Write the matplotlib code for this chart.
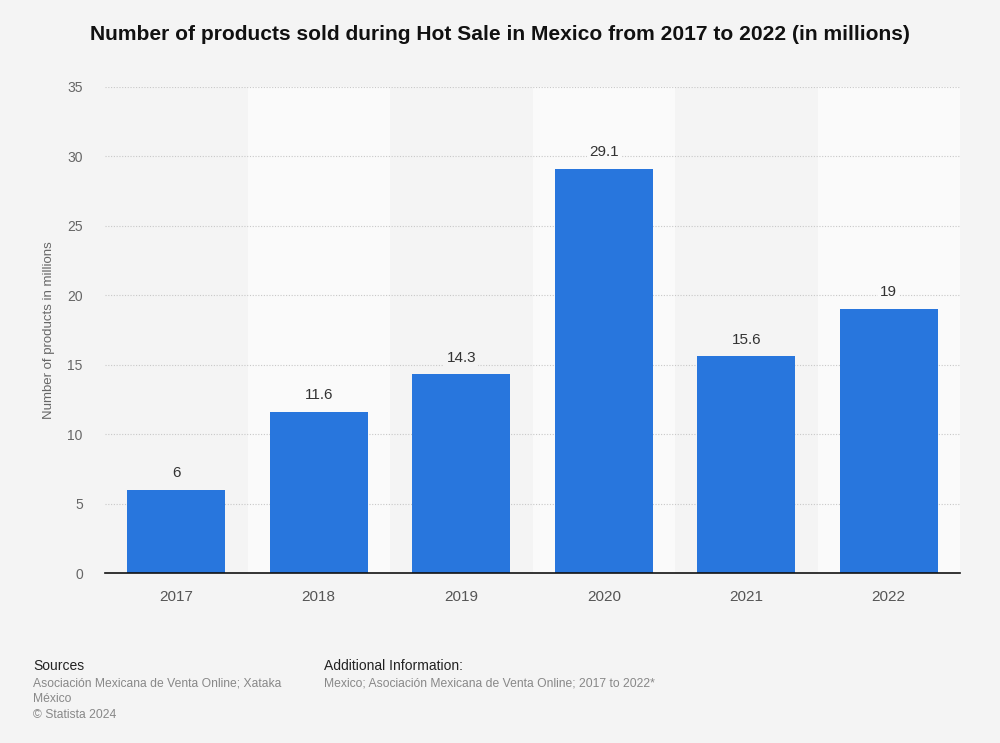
import numpy as np
import matplotlib.pyplot as plt

years = ["2017", "2018", "2019", "2020", "2021", "2022"]
products = [6, 11.6, 14.3, 29.1, 15.6, 19]
value_labels = ["6", "11.6", "14.3", "29.1", "15.6", "19"]
y_ticks = [0, 5, 10, 15, 20, 25, 30, 35]

bg = "#f4f4f4"
band = "#fafafa"
bar_color = "#2876dd"

fig = plt.figure(figsize=(10, 7.43), dpi=100)
fig.set_facecolor(bg)
ax = fig.add_axes([0.105, 0.2288, 0.855, 0.6542])
ax.set_facecolor(bg)

x = np.arange(len(years))

# Alternating column bands
for i in x:
    if i % 2 == 1:
        ax.axvspan(i - 0.5, i + 0.5, color=band, zorder=0, lw=0)

# Grid
for t in y_ticks[1:]:
    ax.axhline(t, color="#c8c8c8", lw=0.8, ls=(0, (1, 1.5)), zorder=1)

bars = ax.bar(x, products, width=0.69, color=bar_color, zorder=2)

for xi, v, lab in zip(x, products, value_labels):
    box_col = band if xi % 2 == 1 else bg
    ax.text(xi, v + 0.7, lab, ha="center", va="bottom", fontsize=11, color="#333333",
            family="Liberation Sans", zorder=4,
            bbox=dict(facecolor=box_col, edgecolor="none", pad=1.5))

ax.set_xlim(-0.5, len(years) - 0.5)
ax.set_ylim(0, 35)
ax.set_xticks(x)
ax.set_xticklabels(years, family="Liberation Sans", fontsize=11, color="#555555")
ax.set_yticks(y_ticks)
ax.set_yticklabels([str(t) for t in y_ticks], family="Liberation Sans", fontsize=10, color="#666666")
ax.tick_params(axis="x", length=0, pad=12)
ax.tick_params(axis="y", length=0, pad=16)
for s in ["top", "right", "left"]:
    ax.spines[s].set_visible(False)
ax.spines["bottom"].set_color("#111111")
ax.spines["bottom"].set_linewidth(1.2)
ax.spines["bottom"].set_zorder(3)

ax.set_ylabel("Number of products in millions", family="Liberation Sans", fontsize=9.5,
              color="#666666", labelpad=9)

fig.text(0.5, 0.953, "Number of products sold during Hot Sale in Mexico from 2017 to 2022 (in millions)",
         ha="center", va="center", fontsize=15.1, fontweight="bold", color="#111111",
         family="Liberation Sans")

fig.text(0.033, 0.104, "Sources", fontsize=10, color="#222222", family="Liberation Sans", va="center")
fig.text(0.033, 0.080, "Asociación Mexicana de Venta Online; Xataka", fontsize=8.7,
         color="#888888", family="Liberation Sans", va="center")
fig.text(0.033, 0.059, "México", fontsize=8.7, color="#888888", family="Liberation Sans", va="center")
fig.text(0.033, 0.038, "© Statista 2024", fontsize=8.7, color="#888888", family="Liberation Sans", va="center")

fig.text(0.324, 0.104, "Additional Information:", fontsize=10, color="#222222",
         family="Liberation Sans", va="center")
fig.text(0.324, 0.080, "Mexico; Asociación Mexicana de Venta Online; 2017 to 2022*", fontsize=8.7,
         color="#888888", family="Liberation Sans", va="center")

fig.savefig("out.png", dpi=100, facecolor=bg)
